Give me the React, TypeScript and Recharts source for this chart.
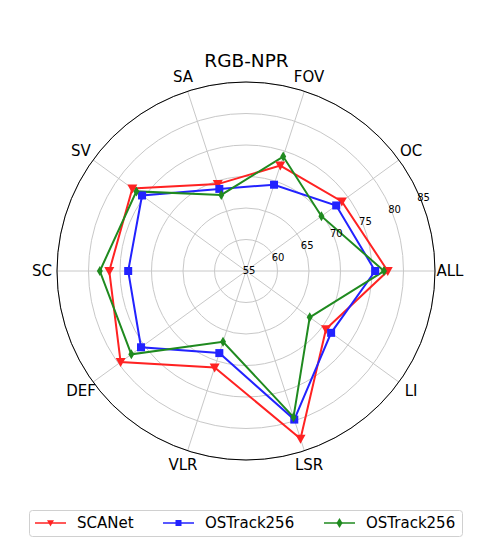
import { RadarChart, Radar, PolarGrid, PolarAngleAxis, PolarRadiusAxis } from "recharts";

const categories = ["ALL", "OC", "FOV", "SA", "SV", "SC", "DEF", "VLR", "LSR", "LI"];
const scanet = [77.5, 73.8, 72.6, 69.5, 77.3, 76.7, 79.6, 71.1, 83.0, 70.7];
const ostrackBlue = [75.5, 72.7, 69.4, 68.7, 75.4, 73.7, 75.6, 68.7, 79.8, 71.7];
const ostrackGreen = [76.9, 69.8, 74.1, 67.7, 76.5, 78.2, 77.5, 66.8, 79.4, 67.5];
const radiusTicks = [55, 60, 65, 70, 75, 80, 85];

const FONT = "'DejaVu Sans', sans-serif";
const CX = 246;
const CY = 271;
const R = 189;

const data = categories.map((c, i) => ({
  name: c,
  scanet: scanet[i],
  blue: ostrackBlue[i],
  green: ostrackGreen[i],
}));

// markers
const triDown = (x: number, y: number, color: string, s = 5) => (
  <polygon
    points={`${x - s},${y - s * 0.8} ${x + s},${y - s * 0.8} ${x},${y + s}`}
    fill={color}
  />
);
const square = (x: number, y: number, color: string, s = 4) => (
  <rect x={x - s} y={y - s} width={s * 2} height={s * 2} fill={color} />
);
const diamond = (x: number, y: number, color: string) => (
  <polygon points={`${x},${y - 5} ${x + 3},${y} ${x},${y + 5} ${x - 3},${y}`} fill={color} />
);

const RED = "#ff2222";
const BLUE = "#2222ff";
const GREEN = "#1f8a1f";

// tick angles from recharts came out two steps behind the radar points,
// so place the labels from the category order instead
function AngleTick(props: any) {
  const { payload } = props;
  const i = categories.indexOf(payload.value);
  const a = (i * 2 * Math.PI) / categories.length;
  const tx = CX + 204 * Math.cos(a);
  const ty = CY - 204 * Math.sin(a);
  return (
    <text x={tx} y={ty} textAnchor="middle" dominantBaseline="central" fontSize={15} fontFamily={FONT} fill="#000">
      {payload.value}
    </text>
  );
}

function RadiusTick(props: any) {
  const { x, y, payload } = props;
  return (
    <text x={x + 3} y={y - 1} textAnchor="middle" dominantBaseline="central" fontSize={10} fontFamily={FONT} fill="#000">
      {payload.value}
    </text>
  );
}

function LegendBox() {
  const items = [
    { label: "SCANet", color: RED, x: 35, kind: "tri" },
    { label: "OSTrack256", color: BLUE, x: 163, kind: "sq" },
    { label: "OSTrack256", color: GREEN, x: 324, kind: "dia" },
  ];
  return (
    <svg width={480} height={40} style={{ position: "absolute", left: 0, top: 500 }}>
      <rect x={29.5} y={10.5} width={433} height={26} rx={3} fill="#fff" stroke="#d0d0d0" />
      {items.map((it, i) => (
        <g key={i}>
          <line x1={it.x} y1={23} x2={it.x + 31} y2={23} stroke={it.color} strokeWidth={1.5} />
          {it.kind === "tri"
            ? triDown(it.x + 15.5, 23, it.color, 3.5)
            : it.kind === "sq"
            ? square(it.x + 15.5, 23, it.color, 3)
            : diamond(it.x + 15.5, 23, it.color)}
          <text x={it.x + 42} y={23} dominantBaseline="central" fontSize={15} fontFamily={FONT} fill="#000">
            {it.label}
          </text>
        </g>
      ))}
    </svg>
  );
}

export default function App() {
  return (
    <div style={{ position: "absolute", left: 0, top: 0, width: 480, height: 540, background: "#fff" }}>
      <div
        style={{
          position: "absolute",
          left: 0,
          top: 51,
          width: 493,
          textAlign: "center",
          fontFamily: FONT,
          fontSize: 18.5,
          lineHeight: "20px",
        }}
      >
        RGB-NPR
      </div>
      <div style={{ position: "absolute", left: 0, top: 0 }}>
        <RadarChart width={480} height={500} data={data} cx={CX} cy={CY} outerRadius={R} startAngle={-36} endAngle={324}>
          <PolarGrid gridType="circle" stroke="#c8c8c8" strokeWidth={1} />
          <PolarGrid gridType="circle" polarRadius={[R]} radialLines={false} stroke="#000" strokeWidth={1} />
          <PolarAngleAxis dataKey="name" tick={<AngleTick />} tickLine={false} axisLine={false} />
          <PolarRadiusAxis
            angle={22.5}
            domain={[55, 85]}
            ticks={radiusTicks as any}
            tickCount={7}
            type="number"
            axisLine={false}
            tickLine={false}
            tick={<RadiusTick />}
          />
          <Radar
            dataKey="scanet"
            name="SCANet"
            stroke={RED}
            strokeWidth={2}
            fill="none"
            fillOpacity={0}
            isAnimationActive={false}
            dot={(p: any) => <g key={`r${p.index}`}>{triDown(p.cx, p.cy, RED)}</g>}
          />
          <Radar
            dataKey="blue"
            name="OSTrack256"
            stroke={BLUE}
            strokeWidth={2}
            fill="none"
            fillOpacity={0}
            isAnimationActive={false}
            dot={(p: any) => <g key={`b${p.index}`}>{square(p.cx, p.cy, BLUE)}</g>}
          />
          <Radar
            dataKey="green"
            name="OSTrack256"
            stroke={GREEN}
            strokeWidth={2}
            fill="none"
            fillOpacity={0}
            isAnimationActive={false}
            dot={(p: any) => <g key={`g${p.index}`}>{diamond(p.cx, p.cy, GREEN)}</g>}
          />
        </RadarChart>
      </div>
      <LegendBox />
    </div>
  );
}
